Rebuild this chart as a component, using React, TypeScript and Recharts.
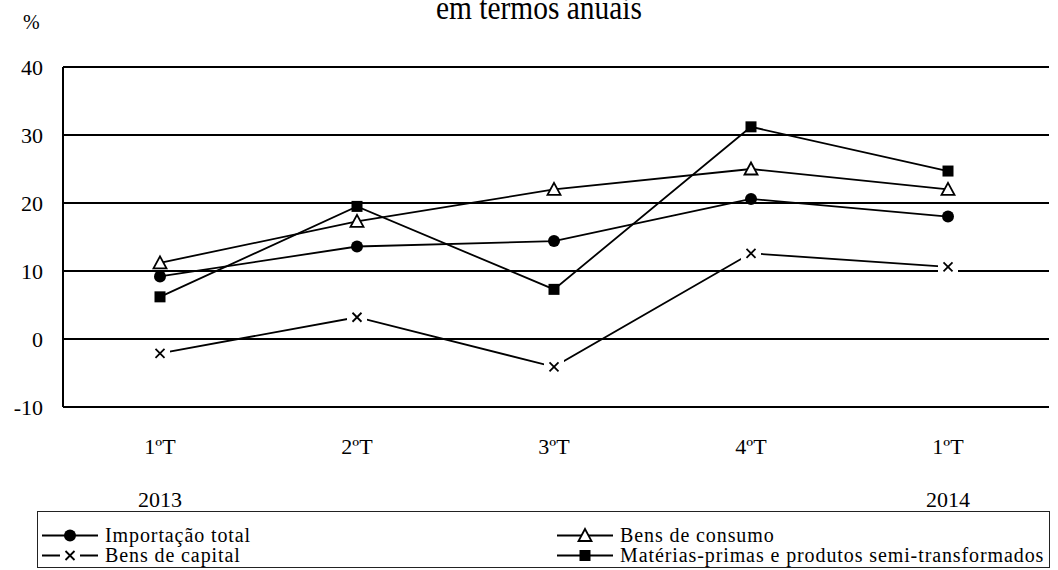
import React from "react";
import { LineChart, Line, XAxis, YAxis, CartesianGrid, Legend } from "recharts";

const quarters = ["1ºT", "2ºT", "3ºT", "4ºT", "1ºT"];
const years = ["2013", "", "", "", "2014"];
const importacaoTotal = [9.2, 13.6, 14.4, 20.6, 18.0];
const bensConsumo = [11.2, 17.3, 22.0, 25.0, 22.0];
const bensCapital = [-2.1, 3.2, -4.1, 12.6, 10.6];
const materiasPrimas = [6.2, 19.5, 7.3, 31.2, 24.7];
const yTicks = [-10, 0, 10, 20, 30, 40];

const data = quarters.map((q, i) => ({
  id: "p" + i,
  quarter: q,
  year: years[i],
  total: importacaoTotal[i],
  consumo: bensConsumo[i],
  capital: bensCapital[i],
  materias: materiasPrimas[i],
}));

const FONT = "'Liberation Serif', 'Times New Roman', serif";

const CircleDot = (p: any) =>
  p.cx == null ? null : <circle key={p.index} cx={p.cx} cy={p.cy} r={6} fill="#000" />;

const TriangleDot = (p: any) =>
  p.cx == null ? null : (
    <polygon
      key={p.index}
      points={`${p.cx},${p.cy - 6.5} ${p.cx + 6.5},${p.cy + 5.5} ${p.cx - 6.5},${p.cy + 5.5}`}
      fill="#fff"
      stroke="#000"
      strokeWidth={1.8}
    />
  );

const SquareDot = (p: any) =>
  p.cx == null ? null : (
    <rect key={p.index} x={p.cx - 5.5} y={p.cy - 5.5} width={11} height={11} fill="#000" />
  );

const CrossDot = (p: any) =>
  p.cx == null ? null : (
    <g key={p.index}>
      <rect x={p.cx - 10} y={p.cy - 7} width={20} height={14} fill="#fff" />
      <line x1={p.cx - 4.5} y1={p.cy - 4.5} x2={p.cx + 4.5} y2={p.cy + 4.5} stroke="#000" strokeWidth={1.8} />
      <line x1={p.cx - 4.5} y1={p.cy + 4.5} x2={p.cx + 4.5} y2={p.cy - 4.5} stroke="#000" strokeWidth={1.8} />
    </g>
  );

const markers: Record<string, any> = {
  total: CircleDot,
  consumo: TriangleDot,
  capital: CrossDot,
  materias: SquareDot,
};

// legend reads row by row: total | consumo, capital | materias
const legendOrder = ["total", "consumo", "capital", "materias"];

const XTick = (props: any) => {
  const { x, y, index } = props;
  return (
    <g>
      <text x={x} y={y + 45} textAnchor="middle" fontSize={22} fontFamily={FONT} fill="#000">
        {quarters[index]}
      </text>
      <text x={x} y={y + 98} textAnchor="middle" fontSize={22} fontFamily={FONT} fill="#000">
        {years[index]}
      </text>
    </g>
  );
};

const LegendBox = (props: any) => {
  const items = props.payload || [];
  return (
    <div
      style={{
        boxSizing: "border-box",
        width: 1013,
        height: 57,
        border: "1.5px solid #222",
        paddingTop: 15,
        display: "grid",
        gridTemplateColumns: "515px 1fr",
        fontFamily: FONT,
        fontSize: 20,
        letterSpacing: 0.9,
        lineHeight: "17px",
        color: "#000",
        textAlign: "left",
      }}
    >
      {legendOrder.map((key) => {
        const it = items.find((d: any) => d.dataKey === key);
        if (!it) return null;
        const Mk = markers[key];
        return (
          <div key={key} style={{ display: "flex", alignItems: "center", height: 17, paddingLeft: 4 }}>
            <svg width={56} height={17} style={{ overflow: "visible", flex: "none" }}>
              <line x1={0} y1={8.5} x2={56} y2={8.5} stroke="#000" strokeWidth={1.8} />
              <Mk cx={28} cy={8.5} index={0} />
            </svg>
            <span style={{ marginLeft: 7, whiteSpace: "nowrap" }}>{it.value}</span>
          </div>
        );
      })}
    </div>
  );
};

export default function App() {
  return (
    <div style={{ position: "absolute", left: 0, top: 0, width: 1058, height: 570, background: "#fff" }}>
      <LineChart width={1058} height={570} data={data} margin={{ top: 67, right: 9, left: 0, bottom: 53 }}>
        <CartesianGrid yAxisId="v" vertical={false} stroke="#000" strokeWidth={2} />
        <XAxis
          dataKey="id"
          height={110}
          interval={0}
          tickSize={0}
          tickLine={false}
          axisLine={{ stroke: "#000", strokeWidth: 2 }}
          padding={{ left: 97, right: 101 }}
          tick={<XTick />}
        />
        <YAxis
          yAxisId="v"
          width={63}
          domain={[-10, 40]}
          ticks={yTicks}
          interval={0}
          tickSize={0}
          tickMargin={20}
          tickLine={false}
          axisLine={{ stroke: "#000", strokeWidth: 2 }}
          tick={{ fill: "#000", fontSize: 22, fontFamily: FONT }}
        />
        <YAxis
          yAxisId="r"
          orientation="right"
          width={0}
          domain={[-10, 40]}
          tick={false}
          tickLine={false}
          axisLine={{ stroke: "#000", strokeWidth: 2 }}
        />
        <Legend
          layout="horizontal"
          verticalAlign="middle"
          align="center"
          content={<LegendBox />}
          wrapperStyle={{ position: "absolute", top: 511, left: 37, width: 1013, height: 57 }}
        />
        <Line yAxisId="v" dataKey="total" name="Importação total" stroke="#000" strokeWidth={1.8} dot={<CircleDot />} activeDot={false} isAnimationActive={false} />
        <Line yAxisId="v" dataKey="consumo" name="Bens de consumo" stroke="#000" strokeWidth={1.8} dot={<TriangleDot />} activeDot={false} isAnimationActive={false} />
        <Line yAxisId="v" dataKey="capital" name="Bens de capital" stroke="#000" strokeWidth={1.8} dot={<CrossDot />} activeDot={false} isAnimationActive={false} />
        <Line yAxisId="v" dataKey="materias" name="Matérias-primas e produtos semi-transformados" stroke="#000" strokeWidth={1.8} dot={<SquareDot />} activeDot={false} isAnimationActive={false} />
      </LineChart>
      <svg width={1058} height={40} style={{ position: "absolute", left: 0, top: 0, pointerEvents: "none" }}>
        <text x={436} y={19} textLength={206} lengthAdjust="spacingAndGlyphs" fontSize={34} fontFamily={FONT} fill="#000">
          em termos anuais
        </text>
        <text x={23} y={29} fontSize={20} fontFamily={FONT} fill="#000">
          %
        </text>
      </svg>
    </div>
  );
}
